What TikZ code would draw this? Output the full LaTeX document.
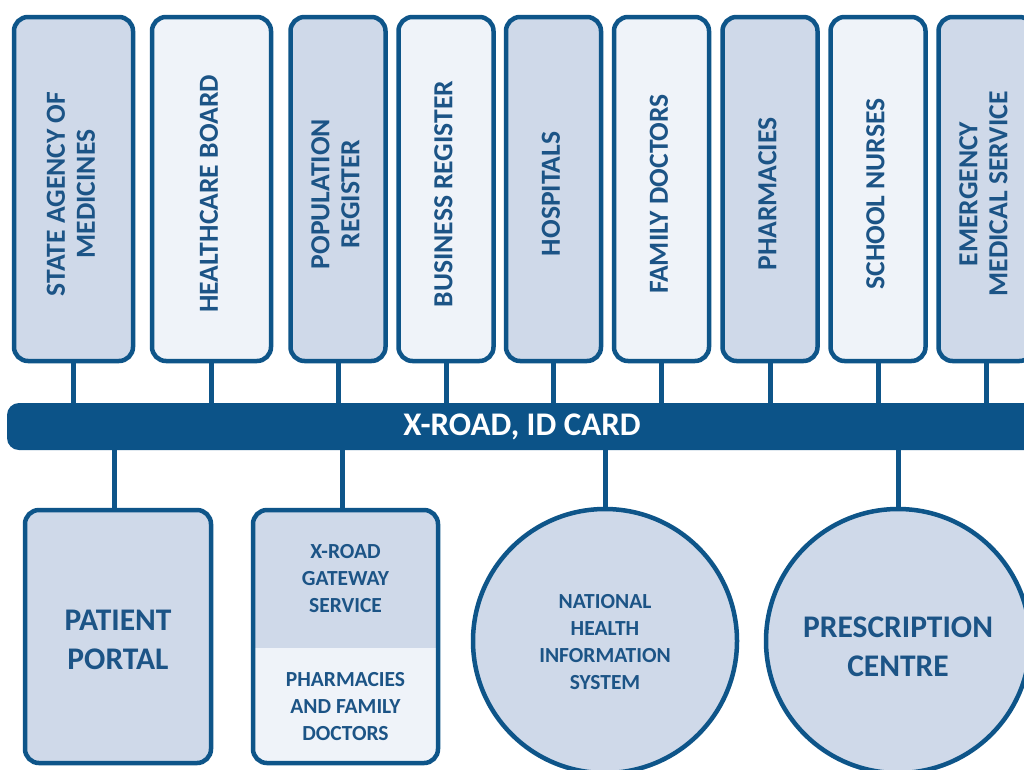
\documentclass[tikz,border=0pt]{standalone}
\usepackage{fontspec}
\usepackage{graphicx}
\setmainfont{Carlito}
\definecolor{edge}{HTML}{0E5589}
\definecolor{barblue}{HTML}{0C5388}
\definecolor{darkfill}{HTML}{CFD9E9}
\definecolor{lightfill}{HTML}{EFF3F9}
\definecolor{txt}{HTML}{1C5486}
\tikzset{
  topbox/.style={draw=edge, line width=4.5pt, rounded corners=14pt, minimum height=344pt, inner sep=0pt, text=txt, font=\fontsize{27.6}{32}\selectfont\bfseries, align=center},
  dk/.style={fill=darkfill},
  lt/.style={fill=lightfill},
  stem/.style={draw=edge, line width=5pt},
  bigtxt/.style={text=txt, font=\fontsize{31.5}{39}\selectfont\bfseries, align=center},
  smalltxt/.style={text=txt, font=\fontsize{21.5}{27}\selectfont\bfseries, align=center},
}
\newcommand{\vtext}[1]{\raisebox{-5pt}[\height][\depth]{\rotatebox{90}{\begin{tabular}{@{}c@{}}#1\end{tabular}}}}
\newcommand{\lowered}[2]{\raisebox{-#1}[\height][\depth]{\begin{tabular}{@{}c@{}}#2\end{tabular}}}
\begin{document}
\begin{tikzpicture}[x=1pt,y=-1pt]
\clip (0,0) rectangle (1024,769);
\fill[white] (0,0) rectangle (1024,769);
% top boxes
\node[topbox,dk,minimum width=119pt] (b1) at (73.5,189) {\vtext{STATE AGENCY OF\\[-2pt]MEDICINES}};
\node[topbox,lt,minimum width=119pt] (b2) at (211.5,189) {\vtext{HEALTHCARE BOARD}};
\node[topbox,dk,minimum width=95pt] (b3) at (338,189) {\vtext{POPULATION\\[-2pt]REGISTER}};
\node[topbox,lt,minimum width=95pt] (b4) at (446,189) {\vtext{BUSINESS REGISTER}};
\node[topbox,dk,minimum width=95pt] (b5) at (553.5,189) {\vtext{HOSPITALS}};
\node[topbox,lt,minimum width=95pt] (b6) at (661.5,189) {\vtext{FAMILY DOCTORS}};
\node[topbox,dk,minimum width=95pt] (b7) at (770,189) {\vtext{PHARMACIES}};
\node[topbox,lt,minimum width=95pt] (b8) at (878,189) {\vtext{SCHOOL NURSES}};
\node[topbox,dk,minimum width=95pt] (b9) at (986,189) {\vtext{EMERGENCY\\[-2pt]MEDICAL SERVICE}};
% bar
\node[fill=barblue, rounded corners=12pt, minimum width=1030pt, minimum height=47pt, inner sep=0pt, text=white, font=\fontsize{33}{36}\selectfont\bfseries] (bar) at (522,426.5) {\lowered{1.5pt}{X-ROAD, ID CARD}};
% stems top
\foreach \b in {b1,b2,b3,b4,b5,b6,b7,b8,b9}{
  \draw[stem] (\b.south) -- (\b.south |- bar.north);
}
% bottom shapes
\node[draw=edge, line width=4.5pt, rounded corners=14pt, dk, minimum width=186pt, minimum height=253pt, inner sep=0pt, bigtxt] (pp) at (118,636.5) {\lowered{6pt}{PATIENT\\PORTAL}};
% gateway box (split fill)
\coordinate (gwc) at (345.5,636.5);
\begin{scope}
\clip[rounded corners=14pt] (253,510) rectangle (438,763);
\fill[darkfill] (253,510) rectangle (438,648);
\fill[lightfill] (253,648) rectangle (438,763);
\end{scope}
\node[draw=edge, line width=4.5pt, rounded corners=14pt, minimum width=185pt, minimum height=253pt, inner sep=0pt] (gw) at (gwc) {};
\node[smalltxt] (gwtop) at (345.5,578.5) {X-ROAD\\GATEWAY\\SERVICE};
\node[smalltxt] (gwbot) at (345.5,706.5) {PHARMACIES\\AND FAMILY\\DOCTORS};
\node[circle, draw=edge, line width=4.5pt, dk, minimum size=264pt, inner sep=0pt, smalltxt] (nhis) at (605,641) {\lowered{3pt}{NATIONAL\\HEALTH\\INFORMATION\\SYSTEM}};
\node[circle, draw=edge, line width=4.5pt, dk, minimum size=264pt, inner sep=0pt, bigtxt] (pc) at (898,641) {\lowered{8pt}{PRESCRIPTION\\CENTRE}};
% stems bottom
\draw[stem] ([xshift=-4pt]pp.north) -- ([xshift=-4pt]pp.north |- bar.south);
\draw[stem] ([xshift=-3pt]gw.north) -- ([xshift=-3pt]gw.north |- bar.south);
\draw[stem] (nhis.north) -- (nhis.north |- bar.south);
\draw[stem] (pc.north) -- (pc.north |- bar.south);
\end{tikzpicture}
\end{document}
